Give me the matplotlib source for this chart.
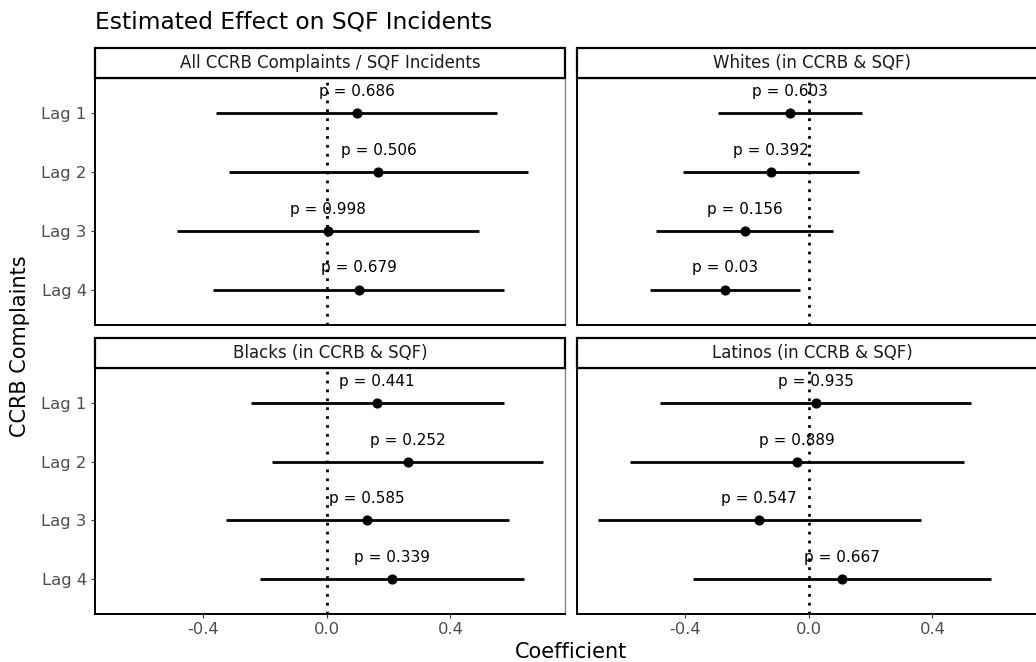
import numpy as np
import matplotlib.pyplot as plt
from matplotlib.patches import Rectangle

# facet titles
panels = ["All CCRB Complaints / SQF Incidents", "Whites (in CCRB & SQF)",
          "Blacks (in CCRB & SQF)", "Latinos (in CCRB & SQF)"]
lags = ["Lag 1", "Lag 2", "Lag 3", "Lag 4"]

# estimates and interval bounds
est_all = [0.096, 0.167, 0.002, 0.103]
lo_all = [-0.360, -0.316, -0.487, -0.370]
hi_all = [0.552, 0.650, 0.492, 0.574]
p_all = ["0.686", "0.506", "0.998", "0.679"]

est_white = [-0.062, -0.124, -0.208, -0.272]
lo_white = [-0.295, -0.408, -0.495, -0.514]
hi_white = [0.173, 0.161, 0.079, -0.029]
p_white = ["0.603", "0.392", "0.156", "0.03"]

est_black = [0.163, 0.261, 0.129, 0.211]
lo_black = [-0.246, -0.179, -0.328, -0.216]
hi_black = [0.574, 0.701, 0.589, 0.639]
p_black = ["0.441", "0.252", "0.585", "0.339"]

est_lat = [0.022, -0.039, -0.162, 0.108]
lo_lat = [-0.483, -0.580, -0.684, -0.375]
hi_lat = [0.526, 0.503, 0.362, 0.590]
p_lat = ["0.935", "0.889", "0.547", "0.667"]

series = [
    (est_all, lo_all, hi_all, p_all),
    (est_white, lo_white, hi_white, p_white),
    (est_black, lo_black, hi_black, p_black),
    (est_lat, lo_lat, hi_lat, p_lat),
]

W, H = 1036, 662
fig = plt.figure(figsize=(W / 100, H / 100), dpi=100)

# panel boxes in pixels (left, right, top, bottom)
cols = [(95, 565), (577, 1047)]
rows = [(78, 325), (368, 614)]
strip_h = 30

grey = "#4d4d4d"
for i, name in enumerate(panels):
    r, c = divmod(i, 2)
    x0, x1 = cols[c]
    y0, y1 = rows[r]
    ax = fig.add_axes([x0 / W, (H - y1) / H, (x1 - x0) / W, (y1 - y0) / H])
    est, lo, hi, pv = series[i]
    ypos = np.arange(1, len(lags) + 1)

    ax.axvline(0, color="black", linestyle=(0, (1, 2.2)), linewidth=2, zorder=1)
    ax.hlines(ypos, lo, hi, color="black", linewidth=2, zorder=2)
    ax.plot(est, ypos, "o", color="black", markersize=6.3, zorder=3)
    for e, y, p in zip(est, ypos, pv):
        ax.text(e, y - 0.37, f"p = {p}", ha="center", va="center", fontsize=11, color="black")

    ax.set_xlim(-0.751, 0.771)
    ax.set_ylim(4.6, 0.4)
    ax.set_yticks(ypos)
    ax.set_xticks([-0.4, 0.0, 0.4])
    if c == 0:
        ax.set_yticklabels(lags, fontsize=11.8, color=grey)
    else:
        ax.tick_params(axis="y", left=False, labelleft=False)
    if r == 1:
        ax.set_xticklabels(["-0.4", "0.0", "0.4"], fontsize=11.8, color=grey)
    else:
        ax.tick_params(axis="x", bottom=False, labelbottom=False)
    ax.tick_params(length=3, width=0.8, color="#333333", pad=3)

    for s in ["top", "right"]:
        ax.spines[s].set_color("#7f7f7f")
        ax.spines[s].set_linewidth(0.9)
    for s in ["left", "bottom"]:
        ax.spines[s].set_color("black")
        ax.spines[s].set_linewidth(1.4)

    # facet strip
    sax = fig.add_axes([x0 / W, (H - y0) / H, (x1 - x0) / W, strip_h / H])
    sax.set_xlim(0, 1)
    sax.set_ylim(0, 1)
    sax.axis("off")
    sax.add_patch(Rectangle((0, 0), 1, 1, facecolor="white", edgecolor="black",
                            linewidth=1.6, transform=sax.transAxes, clip_on=False))
    sax.text(0.5, 0.5, name, ha="center", va="center", fontsize=12, color="#1a1a1a")

fig.text(95 / W, 1 - 22 / H, "Estimated Effect on SQF Incidents", ha="left", va="center", fontsize=16.8)
fig.text(571 / W, 1 - 652 / H, "Coefficient", ha="center", va="center", fontsize=15)
fig.text(20 / W, 1 - 346 / H, "CCRB Complaints", ha="center", va="center", rotation=90, fontsize=15)

fig.savefig("out.png", dpi=100, facecolor="white")
